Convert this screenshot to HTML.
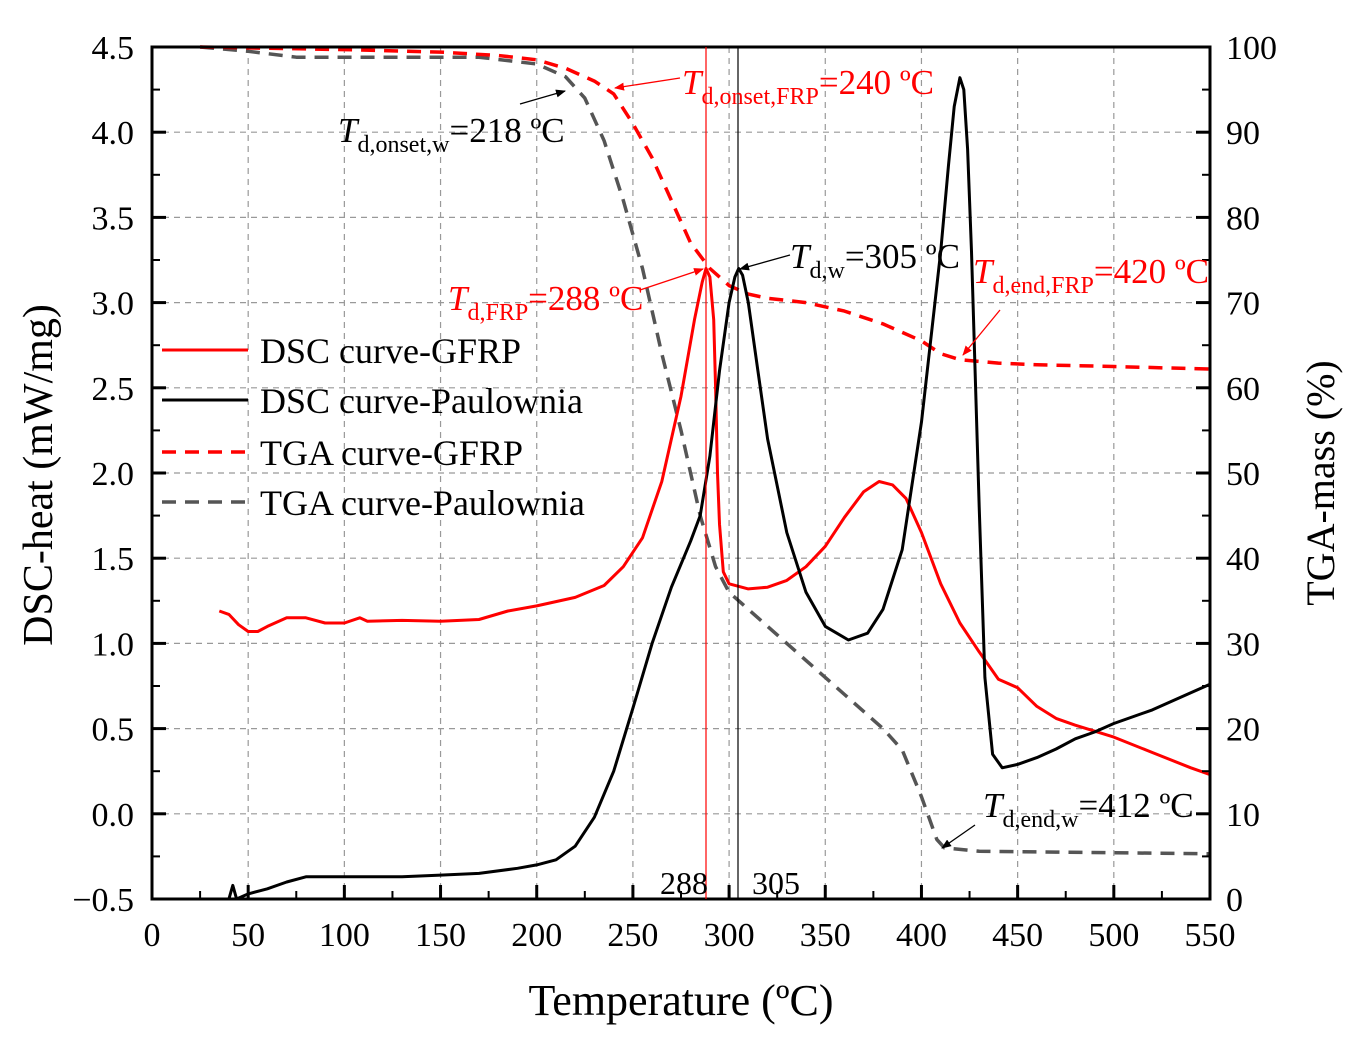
<!DOCTYPE html>
<html><head><meta charset="utf-8"><style>
html,body{margin:0;padding:0;background:#fff;}
svg{display:block;font-family:"Liberation Serif",serif;}
</style></head><body>
<svg id="chart" width="1352" height="1049" viewBox="0 0 1352 1049" xmlns="http://www.w3.org/2000/svg">
<defs>
<marker id="ab" markerWidth="10" markerHeight="8" refX="9" refY="4" orient="auto" markerUnits="userSpaceOnUse" viewBox="0 0 10 8"><path d="M0,0 L10,4 L0,8 Z" fill="#000"/></marker>
<marker id="ar" markerWidth="10" markerHeight="8" refX="9" refY="4" orient="auto" markerUnits="userSpaceOnUse" viewBox="0 0 10 8"><path d="M0,0 L10,4 L0,8 Z" fill="#f00"/></marker>
</defs>
<g id="grid"></g>
<g id="series"></g>
<g id="axes"></g>
<g id="ann">
 <line x1="706" y1="47" x2="706" y2="899" stroke="#f00" stroke-width="1.2"/>
 <line x1="738" y1="47" x2="738" y2="899" stroke="#000" stroke-width="1.2"/>
 <text x="684" y="894" font-size="32" text-anchor="middle">288</text>
 <text x="776" y="894" font-size="32" text-anchor="middle">305</text>

 <line x1="520" y1="104" x2="565" y2="91" stroke="#000" stroke-width="1.3" marker-end="url(#ab)"/>
 <text x="338" y="142" font-size="35"><tspan font-style="italic">T</tspan><tspan font-size="24" dy="10">d,onset,w</tspan><tspan dy="-10">=218 ºC</tspan></text>

 <line x1="680" y1="78" x2="615" y2="88" stroke="#f00" stroke-width="1.3" marker-end="url(#ar)"/>
 <text x="682" y="94" font-size="35" fill="#f00"><tspan font-style="italic">T</tspan><tspan font-size="24" dy="10">d,onset,FRP</tspan><tspan dy="-10">=240 ºC</tspan></text>

 <line x1="640" y1="290" x2="703" y2="269" stroke="#f00" stroke-width="1.3" marker-end="url(#ar)"/>
 <text x="448" y="310" font-size="35" fill="#f00"><tspan font-style="italic">T</tspan><tspan font-size="24" dy="10">d,FRP</tspan><tspan dy="-10">=288 ºC</tspan></text>

 <line x1="790" y1="255" x2="740" y2="269" stroke="#000" stroke-width="1.3" marker-end="url(#ab)"/>
 <text x="790" y="268" font-size="35"><tspan font-style="italic">T</tspan><tspan font-size="24" dy="10">d,w</tspan><tspan dy="-10">=305 ºC</tspan></text>

 <line x1="1000" y1="310" x2="963" y2="355" stroke="#f00" stroke-width="1.3" marker-end="url(#ar)"/>
 <text x="973" y="283" font-size="35" fill="#f00"><tspan font-style="italic">T</tspan><tspan font-size="24" dy="10">d,end,FRP</tspan><tspan dy="-10">=420 ºC</tspan></text>

 <line x1="975" y1="825" x2="942" y2="848" stroke="#000" stroke-width="1.3" marker-end="url(#ab)"/>
 <text x="983" y="817" font-size="35"><tspan font-style="italic">T</tspan><tspan font-size="24" dy="10">d,end,w</tspan><tspan dy="-10">=412 ºC</tspan></text>
</g>
<g id="legend">
 <g><line x1="162" y1="350" x2="248" y2="350" stroke="#f00" stroke-width="3"/><text x="260" y="363" font-size="36">DSC curve-GFRP</text></g>
 <g><line x1="162" y1="400" x2="248" y2="400" stroke="#000" stroke-width="3"/><text x="260" y="413" font-size="36">DSC curve-Paulownia</text></g>
 <g><line x1="162" y1="452" x2="248" y2="452" stroke="#f00" stroke-width="3.5" stroke-dasharray="14,9"/><text x="260" y="465" font-size="36">TGA curve-GFRP</text></g>
 <g><line x1="162" y1="502" x2="248" y2="502" stroke="#555" stroke-width="3.5" stroke-dasharray="14,9"/><text x="260" y="515" font-size="36">TGA curve-Paulownia</text></g>
</g>
<text x="681" y="1015" font-size="44" text-anchor="middle">Temperature (ºC)</text>
<text transform="translate(52,475) rotate(-90)" font-size="42" text-anchor="middle">DSC-heat (mW/mg)</text>
<text transform="translate(1334,483) rotate(-90)" font-size="40" text-anchor="middle">TGA-mass (%)</text>
</svg>
<script>
const xTicks=[0,50,100,150,200,250,300,350,400,450,500,550];
const yLeftTicks=[-0.5,0,0.5,1,1.5,2,2.5,3,3.5,4,4.5];
const yRightTicks=[0,10,20,30,40,50,60,70,80,90,100];
const dscGfrpT=[35,40,45,50,55,60,70,80,90,100,108,112,130,150,170,185,200,220,235,245,255,265,275,282,286,288,290,292,293,294,295,297,300,310,320,330,340,350,360,370,378,385,392,400,410,420,430,440,450,460,470,480,500,520,540,550];
const dscGfrpV=[1.19,1.17,1.11,1.07,1.07,1.10,1.15,1.15,1.12,1.12,1.15,1.13,1.135,1.13,1.14,1.19,1.22,1.27,1.34,1.45,1.62,1.95,2.45,2.9,3.12,3.2,3.15,2.9,2.5,2.0,1.7,1.42,1.35,1.32,1.33,1.37,1.45,1.57,1.74,1.89,1.95,1.93,1.85,1.65,1.35,1.12,0.95,0.79,0.74,0.63,0.56,0.52,0.45,0.36,0.27,0.23];
const dscPawT=[40,42,44,50,60,70,80,90,100,130,150,170,190,200,210,220,230,240,250,260,270,280,285,290,295,300,303,305,307,310,315,320,330,340,350,362,372,380,390,400,410,414,417,420,422,424,426,430,433,437,442,450,460,470,480,490,500,520,540,550];
const dscPawV=[-0.5,-0.42,-0.5,-0.47,-0.44,-0.40,-0.37,-0.37,-0.37,-0.37,-0.36,-0.35,-0.32,-0.3,-0.27,-0.19,-0.02,0.25,0.62,1.0,1.33,1.6,1.75,2.1,2.6,3.0,3.15,3.2,3.16,3.0,2.6,2.2,1.65,1.3,1.1,1.02,1.06,1.2,1.55,2.3,3.3,3.8,4.15,4.32,4.25,3.9,3.3,1.8,0.8,0.35,0.27,0.29,0.33,0.38,0.44,0.48,0.53,0.61,0.71,0.76];
const tgaGfrpT=[25,100,150,180,200,215,230,240,250,260,270,280,290,300,310,320,340,360,380,400,410,420,440,460,500,550];
const tgaGfrpV=[100,99.7,99.4,99,98.5,97.5,96,94.5,91,87,82,77,74,72,71,70.5,70,69,67.5,65.5,64,63.3,62.9,62.7,62.5,62.2];
const tgaPawT=[25,50,75,100,150,170,200,215,225,235,245,255,265,275,285,293,300,310,320,340,360,380,390,400,408,412,430,470,550];
const tgaPawV=[100,99.5,98.8,98.8,98.8,98.8,98,96.5,94,89,82,74,64,55,45,39,36,34,32,28,24,20,17.5,12,7,6,5.6,5.5,5.3];

const X0=152,X1=1210,Y0=899,Y1=47;
const xs=t=>X0+(t/550)*(X1-X0);
const yl=v=>Y0-((v+0.5)/5)*(Y0-Y1);
const yr=p=>Y0-(p/100)*(Y0-Y1);
const NS="http://www.w3.org/2000/svg";
function mk(tag,attrs,parent){const e=document.createElementNS(NS,tag);for(const k in attrs)e.setAttribute(k,attrs[k]);parent.appendChild(e);return e;}
const grid=document.getElementById('grid'),axes=document.getElementById('axes'),series=document.getElementById('series');
xTicks.forEach(t=>{if(t>0&&t<550){const l=mk('line',{x1:xs(t),y1:Y1,x2:xs(t),y2:Y0,stroke:'#999','stroke-width':1.2,'stroke-dasharray':'6,5'},grid);

}});
yLeftTicks.forEach(v=>{if(v>-0.5&&v<4.5){const l=mk('line',{x1:X0,y1:yl(v),x2:X1,y2:yl(v),stroke:'#999','stroke-width':1.2,'stroke-dasharray':'6,5'},grid);

}});
function path(T,V,f,stroke,w,dash,name){let d='';T.forEach((t,i)=>{d+=(i?'L':'M')+xs(t).toFixed(1)+','+f(V[i]).toFixed(1);});
const p=mk('path',{d:d,fill:'none',stroke:stroke,'stroke-width':w,'stroke-linejoin':'round'},series);if(dash)p.setAttribute('stroke-dasharray',dash);

}
path(tgaPawT,tgaPawV,yr,'#555',3.5,'14,9','tga-paulownia-line');
path(tgaGfrpT,tgaGfrpV,yr,'#f00',3.5,'14,9','tga-gfrp-line');
path(dscGfrpT,dscGfrpV,yl,'#f00',3,null,'dsc-gfrp-line');
path(dscPawT,dscPawV,yl,'#000',3,null,'dsc-paulownia-line');
mk('rect',{x:X0,y:Y1,width:X1-X0,height:Y0-Y1,fill:'none',stroke:'#000','stroke-width':3},axes);
xTicks.forEach(t=>{mk('line',{x1:xs(t),y1:Y0,x2:xs(t),y2:Y0-14,stroke:'#000','stroke-width':3},axes);
const tx=mk('text',{x:xs(t),y:946,'font-size':34,'text-anchor':'middle'},axes);tx.textContent=t;

});
for(let t=25;t<550;t+=50){mk('line',{x1:xs(t),y1:Y0,x2:xs(t),y2:Y0-8,stroke:'#000','stroke-width':2},axes);}
yLeftTicks.forEach(v=>{mk('line',{x1:X0,y1:yl(v),x2:X0+14,y2:yl(v),stroke:'#000','stroke-width':3},axes);
const tx=mk('text',{x:134,y:yl(v)+12,'font-size':34,'text-anchor':'end'},axes);tx.textContent=(v<0?'\u22120.5':v.toFixed(1));

});
for(let v=-0.25;v<4.5;v+=0.5){mk('line',{x1:X0,y1:yl(v),x2:X0+8,y2:yl(v),stroke:'#000','stroke-width':2},axes);}
yRightTicks.forEach(p=>{mk('line',{x1:X1,y1:yr(p),x2:X1-14,y2:yr(p),stroke:'#000','stroke-width':3},axes);
const tx=mk('text',{x:1226,y:yr(p)+12,'font-size':34,'text-anchor':'start'},axes);tx.textContent=p;

});
for(let p=5;p<100;p+=10){mk('line',{x1:X1,y1:yr(p),x2:X1-8,y2:yr(p),stroke:'#000','stroke-width':2},axes);}
</script>
</body></html>
